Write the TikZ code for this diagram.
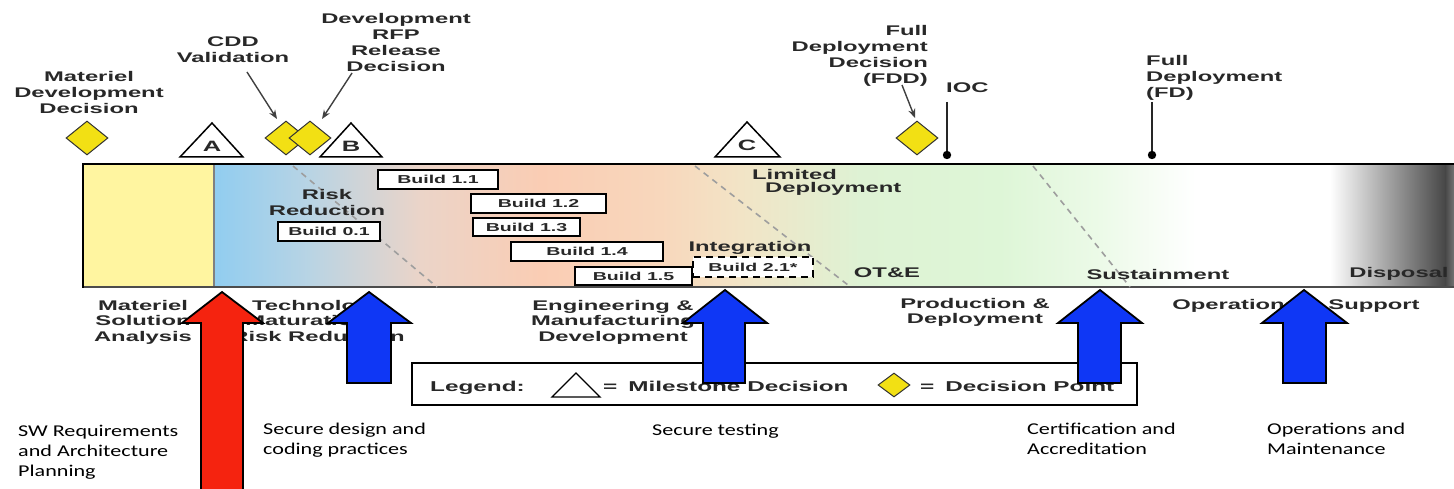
\documentclass[tikz,border=0pt]{standalone}
\usepackage{fontspec}
\setmainfont{Liberation Sans}
\newfontfamily\labfont[FakeStretch=1.7]{Liberation Sans}
\newfontfamily\capfont[FakeStretch=1.34]{Carlito}
\usetikzlibrary{shapes.geometric,arrows.meta}
\definecolor{cy}{RGB}{255,245,160}
\definecolor{cb1}{RGB}{145,205,240}
\definecolor{cb2}{RGB}{185,212,228}
\definecolor{cp1}{RGB}{235,212,200}
\definecolor{cp2}{RGB}{250,205,180}
\definecolor{cp3}{RGB}{248,215,188}
\definecolor{cbe}{RGB}{242,228,198}
\definecolor{cg1}{RGB}{222,242,212}
\definecolor{cg2}{RGB}{222,246,215}
\definecolor{cg3}{RGB}{236,250,232}
\definecolor{cgr}{RGB}{70,70,70}
\definecolor{cge}{RGB}{115,115,115}
\definecolor{dyel}{RGB}{242,224,20}
\definecolor{ablue}{RGB}{15,55,245}
\definecolor{ared}{RGB}{245,35,15}
\definecolor{txt}{RGB}{40,40,40}
\begin{document}
\begin{tikzpicture}[x=1pt,y=-1pt,
  lab/.style={font=\labfont\bfseries\fontsize{14}{16}\selectfont, align=center, inner sep=0pt, text=txt},
  phase/.style={font=\labfont\bfseries\fontsize{14}{15.5}\selectfont, align=center, inner sep=0pt, text=txt},
  buildbox/.style={draw, line width=1.3pt, fill=white, inner sep=0pt, text=txt,
    font=\labfont\bfseries\fontsize{11.5}{13}\selectfont},
  dpt/.style={diamond, draw=black!80, line width=1pt, fill=dyel, aspect=1.235,
    minimum width=42pt, minimum height=34pt, inner sep=0pt},
  tri/.style={draw=black, line width=1.5pt, fill=white, line join=miter},
  letter/.style={font=\labfont\bfseries\fontsize{15}{16}\selectfont, inner sep=0pt, text=txt},
  lblarrow/.style={draw=black!75, line width=1.4pt, -{Stealth[length=9pt,width=7pt]}},
  diag/.style={draw=black!38, line width=1.6pt, dash pattern=on 6pt off 5pt},
  barrow/.style={draw=black, line width=1.8pt, line join=miter},
  capt/.style={font=\capfont\fontsize{16.5}{20}\selectfont, align=left, anchor=north west, inner sep=0pt, text=black},
  legtext/.style={font=\labfont\bfseries\fontsize{14.3}{16}\selectfont, inner sep=0pt, anchor=base west, text=txt}
]
\useasboundingbox[fill=white] (0,0) rectangle (1454,489);

% ---- phase bar background ----
\fill[cy] (83,164) rectangle (215,287);
\shade[left color=cb1,right color=cb2] (214,164) rectangle (311,287);
\shade[left color=cb2,right color=cp1] (310,164) rectangle (421,287);
\shade[left color=cp1,right color=cp2] (420,164) rectangle (541,287);
\shade[left color=cp2,right color=cp3] (540,164) rectangle (661,287);
\shade[left color=cp3,right color=cbe] (660,164) rectangle (741,287);
\shade[left color=cbe,right color=cg1] (740,164) rectangle (861,287);
\shade[left color=cg1,right color=cg2] (860,164) rectangle (1001,287);
\shade[left color=cg2,right color=cg3] (1000,164) rectangle (1101,287);
\shade[left color=cg3,right color=white] (1100,164) rectangle (1196,287);
\fill[white] (1195,164) rectangle (1331,287);
\shade[left color=white,right color=cgr] (1330,164) rectangle (1446,287);
\shade[left color=cgr,right color=cge] (1445,164) rectangle (1454,287);
\draw[line width=2pt, black!50] (214,164) -- (214,287);
\draw[line width=1.8pt, black!70] (83,287) -- (1454,287);
\draw[line width=2.5pt] (1454,164) -- (83,164) -- (83,288);

% ---- dashed transitions ----
\draw[diag] (293,166) -- (437,287);
\draw[diag] (695,166) -- (848,285);
\draw[diag] (1033,166) -- (1130,287);

% ---- builds ----
\node[buildbox, minimum width=120pt, minimum height=19pt] (b11) at (438,179.5) {Build 1.1};
\node[buildbox, minimum width=102pt, minimum height=19pt] (b01) at (329,231.5) {Build 0.1};
\node[buildbox, minimum width=135pt, minimum height=19pt] (b12) at (538.5,203.5) {Build 1.2};
\node[buildbox, minimum width=107pt, minimum height=18pt] (b13) at (526.5,227) {Build 1.3};
\node[buildbox, minimum width=152pt, minimum height=19pt] (b14) at (587,251.5) {Build 1.4};
\node[buildbox, minimum width=117pt, minimum height=18pt] (b15) at (633.5,276) {Build 1.5};
\node[buildbox, dashed, dash pattern=on 7pt off 5pt, minimum width=120pt, minimum height=20pt] (b21) at (753,267) {Build 2.1*};

% ---- texts inside bar ----
\node[lab, anchor=north] (risk) at (327,189) {Risk\\Reduction};
\node[lab, anchor=north west] (lim1) at (752,169) {Limited};
\node[lab, anchor=north west] (lim2) at (765,182) {Deployment};
\node[lab, anchor=north] (integ) at (750,241) {Integration};
\node[lab, anchor=north] (ote) at (887,268) {OT\&E};
\node[lab, anchor=north] (sust) at (1158,269) {Sustainment};
\node[lab, anchor=north] (disp) at (1399,267) {Disposal};

% ---- top decision points / milestones ----
\node[lab, anchor=north] (mddl) at (89,71.5) {Materiel\\Development\\Decision};
\node[lab, anchor=north] (cddl) at (233,37) {CDD\\Validation};
\node[lab, anchor=north] (rfpl) at (396,13) {Development\\RFP\\Release\\Decision};
\node[lab, anchor=north east, align=right] (fddl) at (928,25) {Full\\Deployment\\Decision\\(FDD)};
\node[lab, anchor=north west] (iocl) at (946,83) {IOC};
\node[lab, anchor=north west, align=left] (fdl) at (1146,55) {Full\\Deployment\\(FD)};

\node[dpt] (mdd) at (87,138) {};
\node[dpt] (cdd) at (286,138) {};
\node[dpt] (rfp) at (310,138) {};
\node[dpt] (fdd) at (917,138) {};

\coordinate (cdds) at (247,72);  \coordinate (cddt) at (277,119);
\coordinate (rfps) at (352,73);  \coordinate (rfpt) at (322,119);
\coordinate (fdds) at (902,85);  \coordinate (fddt) at (915,118);
\draw[lblarrow] (cdds) -- (cddt);
\draw[lblarrow] (rfps) -- (rfpt);
\draw[lblarrow] (fdds) -- (fddt);

\draw[tri] (180,157) -- (212,123) -- (243,157) -- cycle;
\node[letter] (msA) at (212,146) {A};
\draw[tri] (320,157) -- (351,123) -- (382,157) -- cycle;
\node[letter] (msB) at (351,146) {B};
\draw[tri] (715,157) -- (747,122) -- (780,157) -- cycle;
\node[letter] (msC) at (747,145) {C};

\coordinate (ioct) at (947,102); \coordinate (iocb) at (947,155);
\draw[line width=2pt, black!85] (ioct) -- (iocb);
\fill[black] (iocb) circle (4.2);
\coordinate (fdt) at (1152,102); \coordinate (fdb) at (1152,155);
\draw[line width=2pt, black!85] (fdt) -- (fdb);
\fill[black] (fdb) circle (4.2);

% ---- phase labels ----
\node[phase, anchor=north] (msa) at (143,300) {Materiel\\Solution\\Analysis};
\node[phase, anchor=north] (tmrr) at (318,300) {Technology\\Maturation \&\\Risk Reduction};
\node[phase, anchor=north] (emd) at (613,300) {Engineering \&\\Manufacturing\\Development};
\node[phase, anchor=north] (pd) at (975,298) {Production \&\\Deployment};
\node[phase, anchor=north] (os) at (1296,299) {Operations \& Support};

% ---- legend ----
\node[draw, line width=2pt, fill=white, minimum width=725pt, minimum height=42pt, inner sep=0pt] (legend) at (774.5,384) {};
\node[legtext] (legl) at (430,391) {Legend:};
\draw[tri, line width=1.3pt] (552,397) -- (576,373) -- (600,397) -- cycle;
\node[legtext] (legm) at (603,391) {=\hspace{11pt}Milestone Decision};
\node[dpt, minimum width=32pt, minimum height=24pt, aspect=1.33] (legd) at (894,385) {};
\node[legtext] (legp) at (920,391) {=\hspace{11pt}Decision Point};

% ---- big arrows ----
\filldraw[barrow, fill=ared] (201,495) -- (201,323) -- (182,323) -- (222,292) -- (263,323) -- (243,323) -- (243,495);
\filldraw[barrow, fill=ablue] (347,383) -- (347,323) -- (328,323) -- (369,292) -- (411,323) -- (391,323) -- (391,383) -- cycle;
\filldraw[barrow, fill=ablue] (703,383) -- (703,323) -- (683,323) -- (725,290) -- (767,323) -- (745,323) -- (745,383) -- cycle;
\filldraw[barrow, fill=ablue] (1078,383) -- (1078,323) -- (1058,323) -- (1100,290) -- (1142,323) -- (1121,323) -- (1121,383) -- cycle;
\filldraw[barrow, fill=ablue] (1283,383) -- (1283,323) -- (1262,323) -- (1304,290) -- (1347,323) -- (1326,323) -- (1326,383) -- cycle;

% ---- captions ----
\node[capt] (c1) at (18,425) {SW Requirements\\and Architecture\\Planning};
\node[capt] (c2) at (263,423) {Secure design and\\coding practices};
\node[capt] (c3) at (652,424) {Secure testing};
\node[capt] (c4) at (1027,423) {Certification and\\Accreditation};
\node[capt] (c5) at (1267,423) {Operations and\\Maintenance};
\end{tikzpicture}
\end{document}
